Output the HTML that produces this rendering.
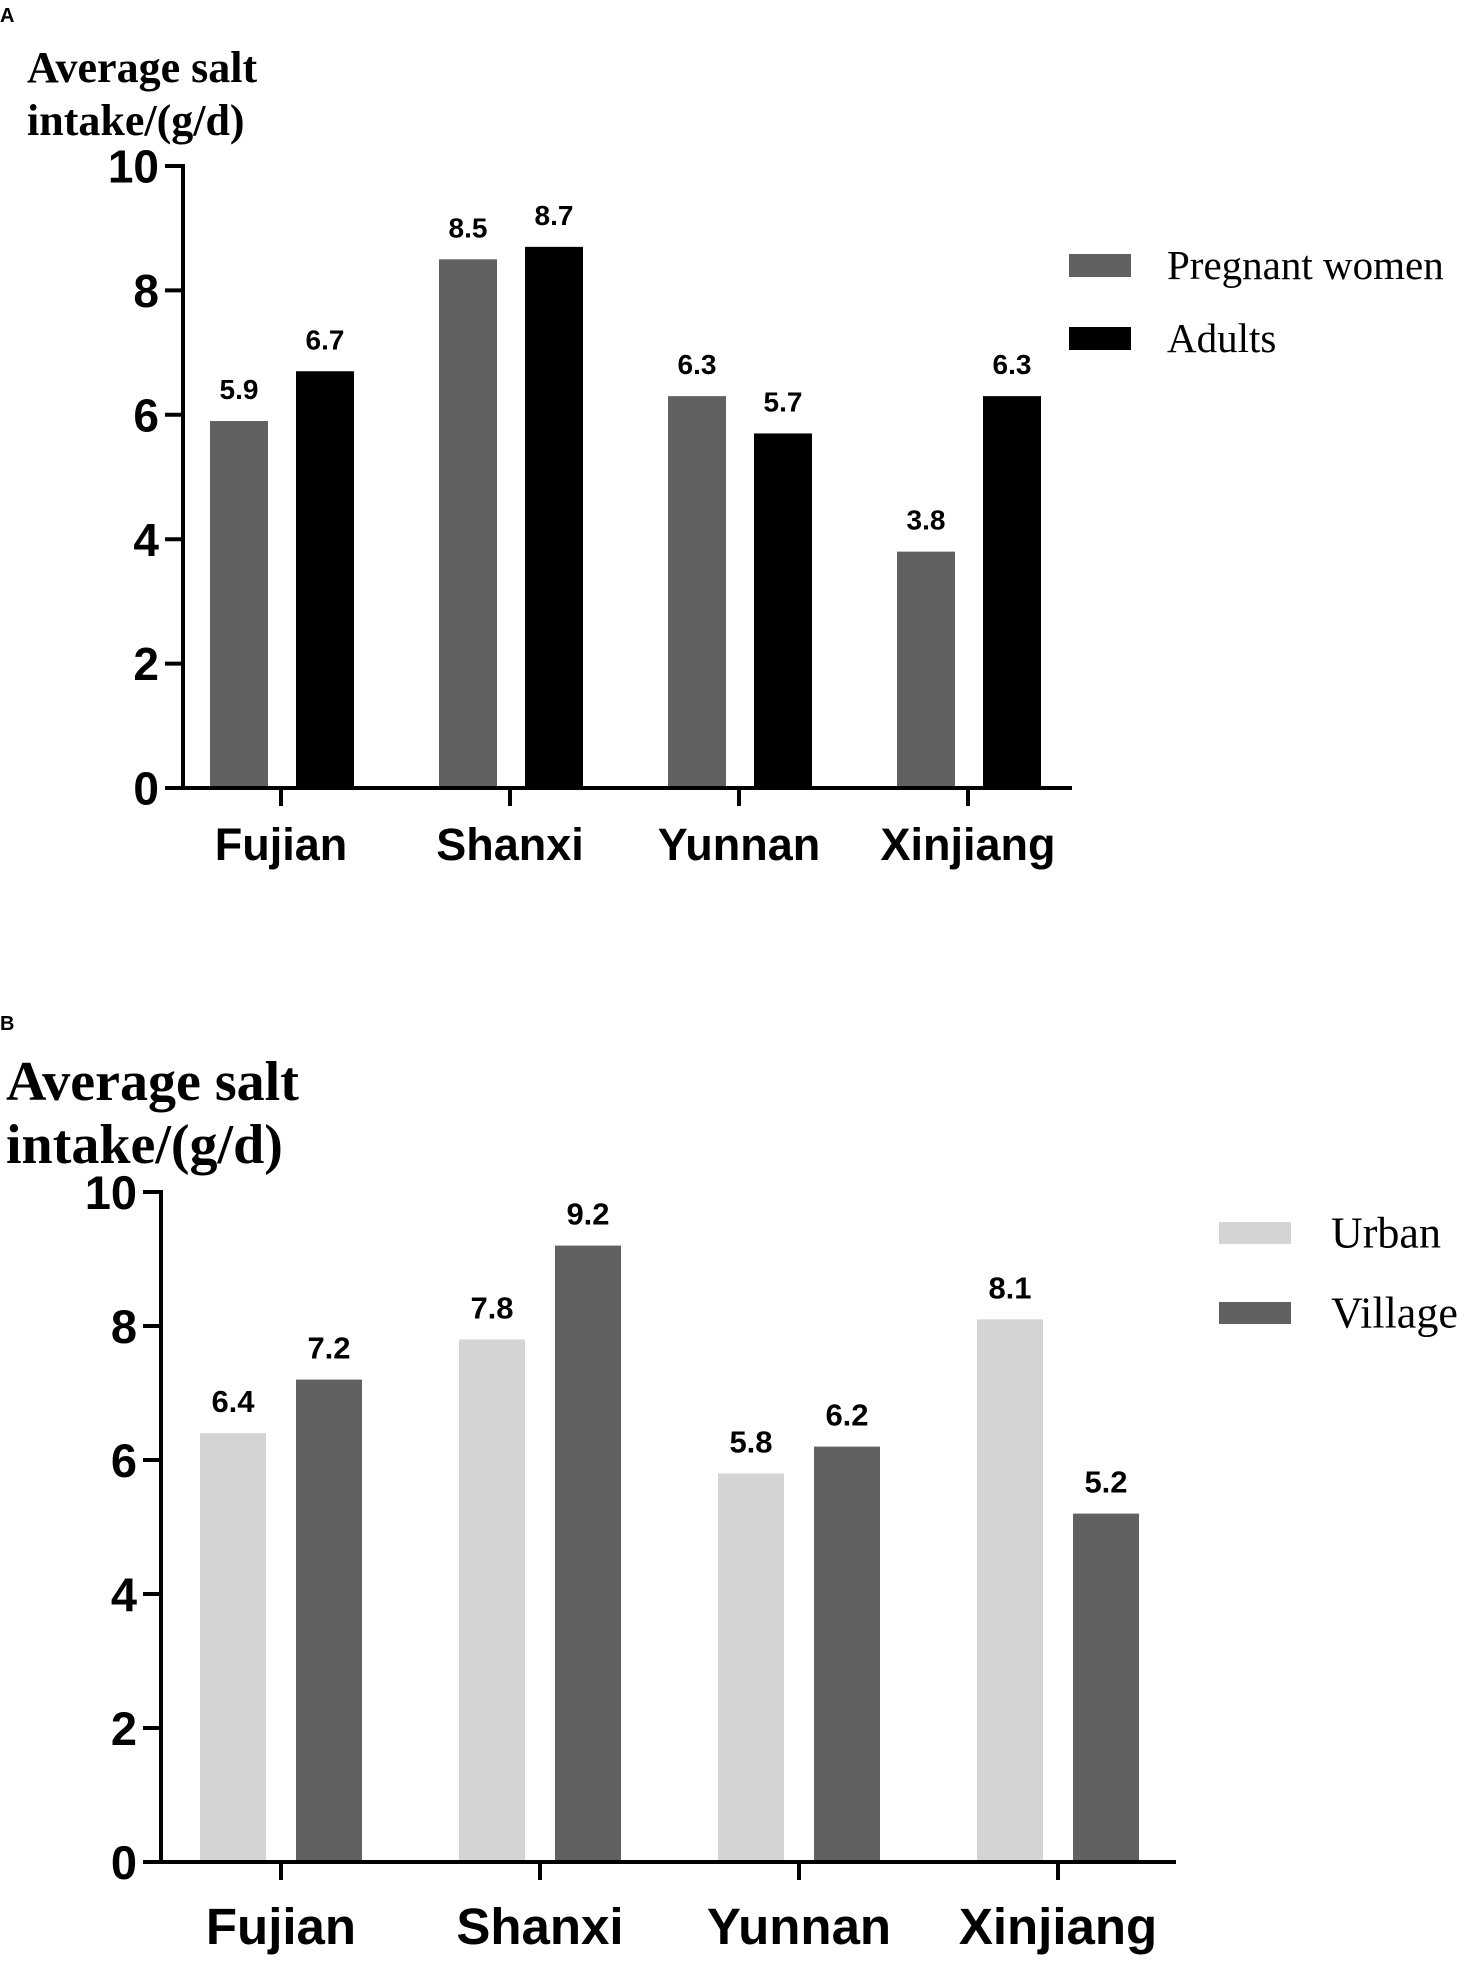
<!DOCTYPE html>
<html><head><meta charset="utf-8"><style>
html,body{margin:0;padding:0;background:#fff;}
svg{display:block;}
.sans{font-family:"Liberation Sans",sans-serif;font-weight:bold;}
.serif{font-family:"Liberation Serif",serif;}
</style></head><body>
<svg id="fig" width="1474" height="1962" viewBox="0 0 1474 1962" xmlns="http://www.w3.org/2000/svg"></svg>
<script>
const categories = ["Fujian","Shanxi","Yunnan","Xinjiang"];
const pregnantValues = [5.9, 8.5, 6.3, 3.8];
const adultValues = [6.7, 8.7, 5.7, 6.3];
const urbanValues = [6.4, 7.8, 5.8, 8.1];
const villageValues = [7.2, 9.2, 6.2, 5.2];
const yTicks = [0, 2, 4, 6, 8, 10];

const NS = "http://www.w3.org/2000/svg";
const svg = document.getElementById("fig");
function mk(tag, attrs, text, parent){
  const e = document.createElementNS(NS, tag);
  for (const k in attrs) e.setAttribute(k, attrs[k]);
  if (text !== undefined) e.textContent = text;
  (parent || svg).appendChild(e);
  return e;
}

function chart(cfg){
  const g = mk("g", {});
  
  
  const y = v => cfg.y0 - (v / 10) * (cfg.y0 - cfg.y10);
  const xc = i => cfg.c0 + i * cfg.step;
  const pl = mk("text", {x:0, y:cfg.letterY, class:"sans", "font-size":20}, cfg.letter, g);
  
  
  const t1 = mk("text", {x:cfg.titleX, y:cfg.titleY1, class:"serif", "font-weight":"bold", "font-size":cfg.titleSize}, "Average salt", g);
  
  
  const t2 = mk("text", {x:cfg.titleX, y:cfg.titleY2, class:"serif", "font-weight":"bold", "font-size":cfg.titleSize}, "intake/(g/d)", g);
  
  
  for (let i = 0; i < categories.length; i++){
    const vs = [cfg.s1[i], cfg.s2[i]];
    const lefts = [xc(i) + cfg.off1, xc(i) + cfg.off2];
    const cols = [cfg.col1, cfg.col2];
    for (let s = 0; s < 2; s++){
      const b = mk("rect", {x:lefts[s], y:y(vs[s]), width:cfg.bw, height:cfg.y0 - y(vs[s]), fill:cols[s]}, undefined, g);
      
      
      const l = mk("text", {x:lefts[s] + cfg.bw/2, y:y(vs[s]) - cfg.valGap, "text-anchor":"middle", class:"sans", "font-size":cfg.valSize}, vs[s].toFixed(1), g);
      
      
    }
  }
  const ya = mk("line", {x1:cfg.ax, y1:cfg.y10 - 2, x2:cfg.ax, y2:cfg.y0 + 2, stroke:"#000", "stroke-width":4}, undefined, g);
  
  
  const xa = mk("line", {x1:cfg.ax - 2, y1:cfg.y0, x2:cfg.xEnd, y2:cfg.y0, stroke:"#000", "stroke-width":4}, undefined, g);
  
  
  for (const t of yTicks){
    mk("line", {x1:cfg.ax - 18, y1:y(t), x2:cfg.ax, y2:y(t), stroke:"#000", "stroke-width":4}, undefined, g);
    const tl = mk("text", {x:cfg.ax - 24, y:y(t) + cfg.tickSize*0.36, "text-anchor":"end", class:"sans", "font-size":cfg.tickSize}, String(t), g);
    
    
  }
  for (let i = 0; i < categories.length; i++){
    mk("line", {x1:xc(i), y1:cfg.y0, x2:xc(i), y2:cfg.y0 + 18, stroke:"#000", "stroke-width":4}, undefined, g);
    const cl = mk("text", {x:xc(i), y:cfg.y0 + cfg.catDy, "text-anchor":"middle", class:"sans", "font-size":cfg.catSize}, categories[i], g);
    
    
  }
  const names = cfg.legend;
  const cols = [cfg.col1, cfg.col2];
  for (let s = 0; s < 2; s++){
    const lg = mk("g", {}, undefined, g);
    
    
    mk("rect", {x:cfg.legX, y:cfg.legY + s*cfg.legStep, width:cfg.legW, height:cfg.legH, fill:cols[s]}, undefined, lg);
    mk("text", {x:cfg.legTx, y:cfg.legY + s*cfg.legStep + cfg.legH/2 + cfg.legSize*0.33, class:"serif", "font-size":cfg.legSize}, names[s], lg);
  }
}

chart({name:"chart-a", letter:"A", letterY:22, titleX:27, titleY1:82, titleY2:135, titleSize:44,
  ax:183, y10:166, y0:788, xEnd:1072, c0:281, step:229, bw:58, off1:-71, off2:15,
  s1:pregnantValues, s2:adultValues, col1:"#616161", col2:"#000000", keys:["pregnant","adults"],
  valSize:28, valGap:22, tickSize:46, catSize:45, catDy:72,
  legend:["Pregnant women","Adults"], legX:1069, legY:254, legStep:73, legW:62, legH:23, legTx:1167, legSize:41});

chart({name:"chart-b", letter:"B", letterY:1030, titleX:6, titleY1:1100, titleY2:1163, titleSize:56,
  ax:161, y10:1192, y0:1862, xEnd:1176, c0:281, step:259, bw:66, off1:-81, off2:15,
  s1:urbanValues, s2:villageValues, col1:"#d4d4d4", col2:"#616161", keys:["urban","village"],
  valSize:31, valGap:21, tickSize:47, catSize:51, catDy:82,
  legend:["Urban","Village"], legX:1219, legY:1222, legStep:80, legW:72, legH:22, legTx:1331, legSize:44});
</script>
</body></html>
